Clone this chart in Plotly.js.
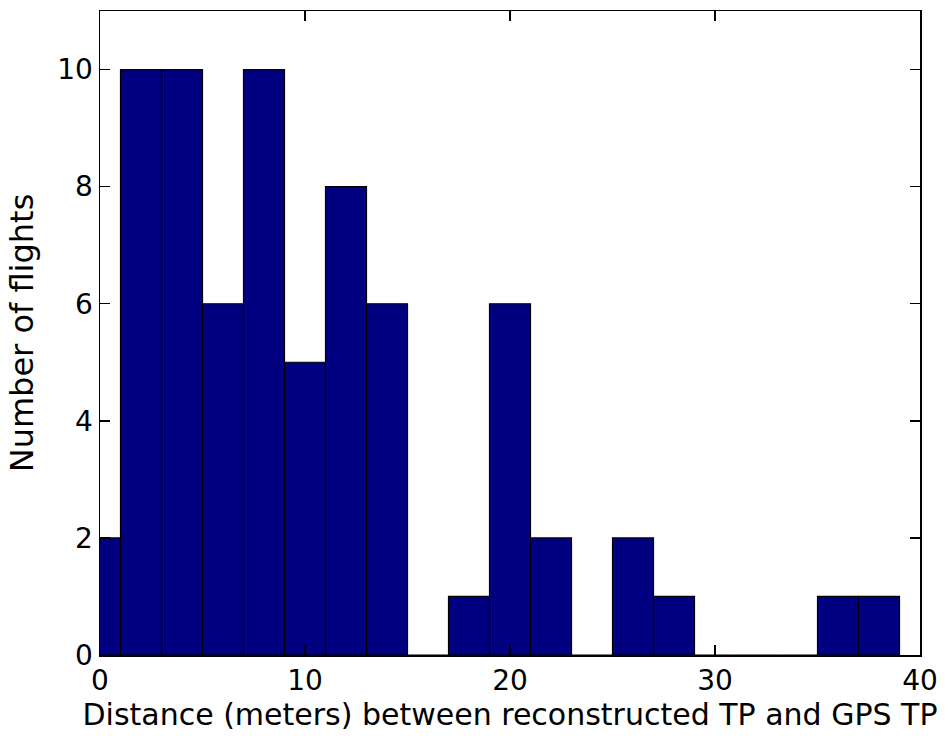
<!DOCTYPE html>
<html>
<head>
<meta charset="utf-8">
<script src="https://cdn.plot.ly/plotly-3.0.1.min.js"></script>
<style>html,body{margin:0;padding:0;background:#fff;}#chart{width:949px;height:736px;}</style>
</head>
<body>
<div id="chart"></div>
<script>
const binCenters = [0, 2, 4, 6, 8, 10, 12, 14, 16, 18, 20, 22, 24, 26, 28, 30, 32, 34, 36, 38];
const flightCounts = [2, 10, 10, 6, 10, 5, 8, 6, 0, 1, 6, 2, 0, 2, 1, 0, 0, 0, 1, 1];
const xTicks = [0, 10, 20, 30, 40];
const yTicks = [0, 2, 4, 6, 8, 10];
const xTitle = "Distance (meters) between reconstructed TP and GPS TP";
const yTitle = "Number of flights";

const fam = "DejaVu Sans, Liberation Sans, Arial, sans-serif";
const tickFont = {family: fam, size: 28, color: "#000"};

const trace = {
  type: "bar",
  x: binCenters,
  y: flightCounts,
  width: 2,
  marker: {color: "#000080", line: {color: "#000", width: 1.2}},
  hoverinfo: "x+y"
};

const axisCommon = {
  showgrid: false,
  zeroline: false,
  showline: true,
  linecolor: "#000",
  linewidth: 1.5,
  mirror: "ticks",
  ticks: "inside",
  ticklen: 10,
  tickwidth: 1.5,
  tickcolor: "#000",
  tickfont: tickFont
};

const layout = {
  width: 949,
  height: 736,
  margin: {l: 100, r: 29, t: 11, b: 81},
  paper_bgcolor: "#fff",
  plot_bgcolor: "#fff",
  showlegend: false,
  bargap: 0,
  font: tickFont,
  xaxis: Object.assign({}, axisCommon, {
    range: [0, 40],
    tickvals: xTicks,
    ticktext: xTicks.map(String),
    ticklabelstandoff: 0,
    title: {text: xTitle, font: {family: fam, size: 30, color: "#000"}, standoff: 2}
  }),
  yaxis: Object.assign({}, axisCommon, {
    range: [0, 11],
    tickvals: yTicks,
    ticktext: yTicks.map(String),
    title: {text: yTitle, font: {family: fam, size: 32, color: "#000"}, standoff: 14}
  })
};

Plotly.newPlot("chart", [trace], layout, {displayModeBar: false, staticPlot: true});
</script>
</body>
</html>
